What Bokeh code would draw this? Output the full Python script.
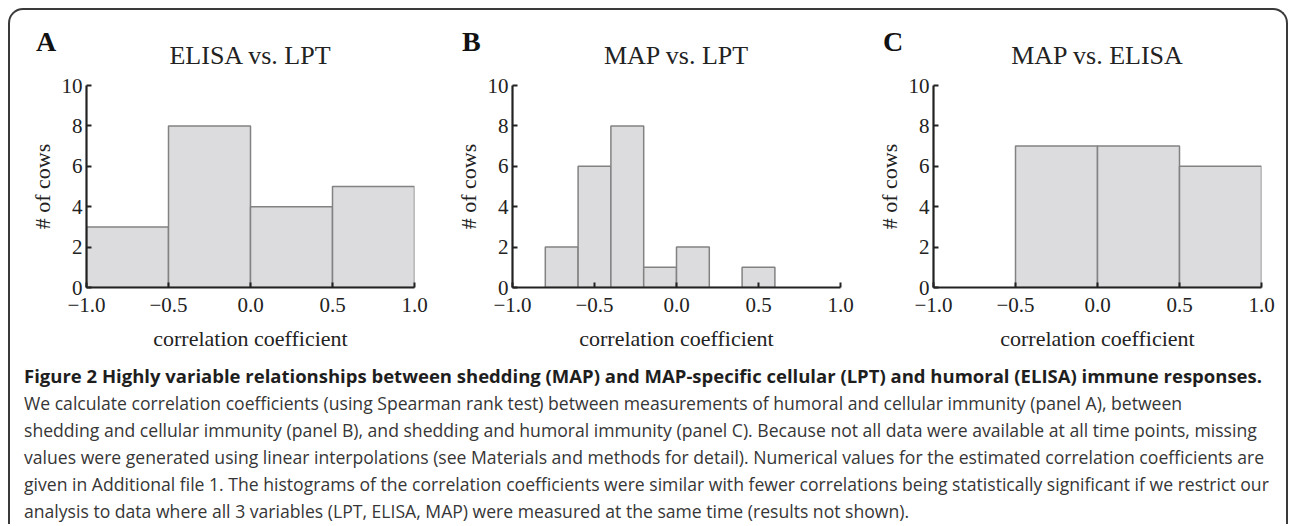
from bokeh.plotting import figure
from bokeh.models import Range1d, FixedTicker, Div
from bokeh.layouts import row, column
from bokeh.embed import file_html
from bokeh.resources import INLINE

# ---------------- data ----------------
panel_letters = ["A", "B", "C"]
panel_titles = ["ELISA vs. LPT", "MAP vs. LPT", "MAP vs. ELISA"]

a_left = [-1.0, -0.5, 0.0, 0.5]
a_right = [-0.5, 0.0, 0.5, 1.0]
a_counts = [3, 8, 4, 5]

b_left = [-0.8, -0.6, -0.4, -0.2, 0.0, 0.2, 0.4]
b_right = [-0.6, -0.4, -0.2, 0.0, 0.2, 0.4, 0.6]
b_counts = [2, 6, 8, 1, 2, 0, 1]

c_left = [-0.5, 0.0, 0.5]
c_right = [0.0, 0.5, 1.0]
c_counts = [7, 7, 6]

x_ticks = [-1.0, -0.5, 0.0, 0.5, 1.0]
x_tick_labels = ["\u22121.0", "\u22120.5", "0.0", "0.5", "1.0"]
y_ticks = [0, 2, 4, 6, 8, 10]
y_tick_labels = ["0", "2", "4", "6", "8", "10"]
x_label = "correlation coefficient"
y_label = "# of cows"

caption_title = ("Figure 2 Highly variable relationships between shedding (MAP) and "
                 "MAP-specific cellular (LPT) and humoral (ELISA) immune responses.")
caption_lines = [
    "We calculate correlation coefficients (using Spearman rank test) between measurements of humoral and cellular immunity (panel A), between",
    "shedding and cellular immunity (panel B), and shedding and humoral immunity (panel C). Because not all data were available at all time points, missing",
    "values were generated using linear interpolations (see Materials and methods for detail). Numerical values for the estimated correlation coefficients are",
    "given in Additional file 1. The histograms of the correlation coefficients were similar with fewer correlations being statistically significant if we restrict our",
    "analysis to data where all 3 variables (LPT, ELISA, MAP) were measured at the same time (results not shown).",
]

# ---------------- styling ----------------
SERIF = "Liberation Serif"
INK = "#222222"
BAR_FILL = "#dcdcdf"
BAR_LINE = "#828282"

FRAME_W = 328
FRAME_H = 202
LEFT_B = 76
right_borders = [22, 17, 25]
HEADER_H = 65

panels = [
    (a_left, a_right, a_counts),
    (b_left, b_right, b_counts),
    (c_left, c_right, c_counts),
]

cols = []
for i, (left, right, counts) in enumerate(panels):
    fig_w = LEFT_B + FRAME_W + right_borders[i]
    p = figure(
        frame_width=FRAME_W, frame_height=FRAME_H,
        x_range=Range1d(-1.0, 1.0), y_range=Range1d(0, 10),
        output_backend="svg", toolbar_location=None,
        min_border_left=LEFT_B, min_border_right=right_borders[i],
        min_border_top=10, min_border_bottom=72,
    )
    p.outline_line_color = None
    p.xgrid.visible = False
    p.ygrid.visible = False
    p.background_fill_color = "white"
    p.border_fill_color = "white"

    p.quad(left=left, right=right, bottom=0, top=counts,
           fill_color=BAR_FILL, line_color=BAR_LINE, line_width=1.5)

    for ax in (p.xaxis[0], p.yaxis[0]):
        ax.axis_line_color = INK
        ax.axis_line_width = 2.2
        ax.major_tick_line_color = INK
        ax.major_tick_line_width = 2
        ax.major_tick_in = 5
        ax.major_tick_out = 0
        ax.minor_tick_line_color = None
        ax.major_label_text_font = SERIF
        ax.major_label_text_font_size = "21px"
        ax.major_label_text_color = INK
        ax.axis_label_text_font = SERIF
        ax.axis_label_text_font_size = "22px"
        ax.axis_label_text_font_style = "normal"
        ax.axis_label_text_color = INK

    p.xaxis.ticker = FixedTicker(ticks=x_ticks)
    p.xaxis.major_label_overrides = dict(zip(x_ticks, x_tick_labels))
    p.xaxis.major_label_standoff = 10
    p.xaxis.axis_label = x_label
    p.xaxis.axis_label_standoff = 11

    p.yaxis.ticker = FixedTicker(ticks=y_ticks)
    p.yaxis.major_label_overrides = dict(zip(y_ticks, y_tick_labels))
    p.yaxis.major_label_standoff = 4
    p.yaxis.axis_label = y_label
    p.yaxis.axis_label_standoff = 4

    center = LEFT_B + FRAME_W // 2
    header_html = (
        f"<div style='position:relative;width:{fig_w}px;height:{HEADER_H}px;'>"
        f"<span style=\"position:absolute;left:26px;top:18px;line-height:1;"
        f"font-family:'{SERIF}',serif;font-size:28px;font-weight:bold;color:#111;\">"
        f"{panel_letters[i]}</span>"
        f"<span style=\"position:absolute;left:{center - 200}px;width:400px;top:33px;"
        f"text-align:center;line-height:1;white-space:nowrap;"
        f"font-family:'{SERIF}',serif;font-size:26px;color:{INK};\">"
        f"{panel_titles[i]}</span></div>"
    )
    header = Div(text=header_html, width=fig_w, height=HEADER_H, margin=(0, 0, 0, 0))
    cols.append(column(header, p, spacing=0))

html_lines = (["<b style='color:#1e1e1e;font-size:18.5px'>" + caption_title + "</b>"]
              + caption_lines)
caption = Div(
    text=("<div style=\"padding-top:3px;padding-left:14px;font-family:'Open Sans',sans-serif;"
          "font-size:17.6px;line-height:27px;color:#363636;white-space:nowrap;\">"
          + "<br>".join(html_lines) + "</div>"),
    width=1276, height=165, margin=(0, 0, 0, 0),
)

layout = column(
    row(*cols, spacing=0),
    caption,
    spacing=0,
    margin=(8, 0, 0, 8),
    styles={
        "border": "2px solid #3a3a3a",
        "border-bottom": "none",
        "border-radius": "15px 15px 0 0",
        "background": "white",
    },
)

open("out.html", "w").write(file_html(layout, INLINE))
